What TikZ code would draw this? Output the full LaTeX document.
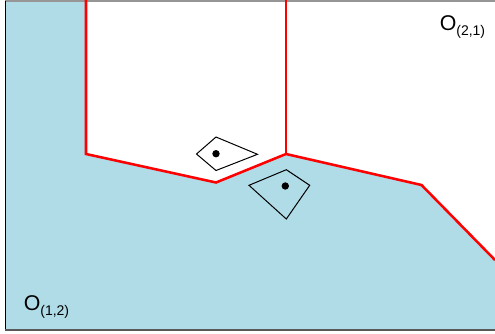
\documentclass[tikz,border=0pt]{standalone}
\usepackage{fontspec}
\setmainfont{Liberation Sans}
\usepackage{xcolor}
\definecolor{regionblue}{RGB}{176,220,232}
\definecolor{framegray}{RGB}{150,150,150}

\begin{document}
\begin{tikzpicture}[
  x=0.75pt,
  y=-0.75pt,
  line cap=butt,
  line join=miter,
  region/.style={fill=regionblue,draw=none},
  boundary/.style={draw=red,line width=1.9pt},
  cell/.style={draw=black,line width=0.75pt},
  site/.style={fill=black},
  set label/.style={inner sep=0pt,anchor=base west,font=\fontsize{16}{18}\selectfont}
]
  \path[use as bounding box] (0,0) rectangle (495,333);

  % shaded region O_(1,2) below the red boundary
  \path[region] (5,1) -- (86,1) -- (86,154) -- (216,182.5) -- (286,154)
    -- (421.5,185) -- (495,260) -- (495,330) -- (5,330) -- cycle;

  % frame
  \draw[framegray,line width=0.9pt] (5,1) -- (495,1);
  \draw[black,line width=0.9pt] (5.5,1) -- (5.5,330);
  \draw[black!65,line width=1.2pt] (5,330) -- (495,330);

  % red boundaries
  \draw[boundary] (86,0) -- (86,154) -- (216,182.5) -- (286,154)
    -- (421.5,185) -- (495,260);
  \draw[boundary] (286,0) -- (286,154);

  % two small cells with their sites
  \draw[cell] (196.5,154) -- (216,137) -- (257.5,154.3) -- (216,170.5) -- cycle;
  \fill[site] (216,153.7) circle[radius=3.7];
  \draw[cell] (249,185.3) -- (286.3,169.7) -- (309.7,185.3) -- (286.3,219) -- cycle;
  \fill[site] (285.3,186) circle[radius=3.7];

  % labels
  \node[set label] (o21) at (439.5,30)
    {O\raisebox{-4pt}{\fontsize{10.5}{12}\selectfont(2,1)}};
  \node[set label] (o12) at (23.5,310)
    {O\raisebox{-4pt}{\fontsize{10.5}{12}\selectfont(1,2)}};
\end{tikzpicture}
\end{document}
